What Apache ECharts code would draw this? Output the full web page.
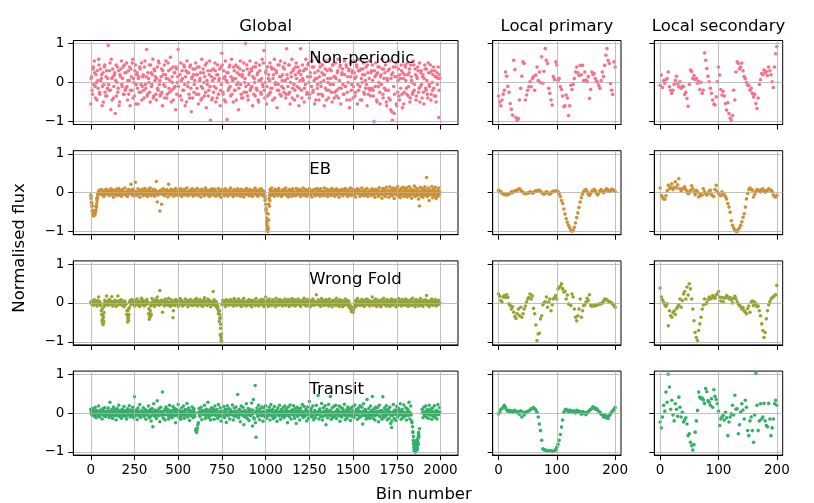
<!DOCTYPE html>
<html><head><meta charset="utf-8">
<script src="https://cdn.jsdelivr.net/npm/echarts@6/dist/echarts.min.js"></script>
<style>html,body{margin:0;padding:0;background:#fff}#c{width:814px;height:503px}</style>
</head><body><div id="c"></div>
<script>
// ---------------- data (flux values in hundredths) ----------------
const classNames = ['Non-periodic', 'EB', 'Wrong Fold', 'Transit'];
const columnTitles = ['Global', 'Local primary', 'Local secondary'];
const globalXTicks = [0, 250, 500, 750, 1000, 1250, 1500, 1750, 2000];
const localXTicks = [0, 100, 200];
const yTicks = [-1, 0, 1];
const globalBinStep = 5;   // one value every 5 bins
const globalMidOffset = 2; // second sample set, 2 bins after the first
const localBinStep = 2;    // one value every 2 bins

const globalNonPeriodic = [
-55,15,-30,40,55,-10,20,-45,5,60,-25,35,10,-60,25,-5,45,-35,30,-15,
95,-20,50,-70,10,35,-40,20,-80,45,0,-25,30,-50,15,55,-10,40,-30,25,
-15,50,-45,30,5,-60,35,-20,60,10,-35,45,-5,25,-55,15,40,-25,50,-10,
20,-40,55,-15,85,-30,10,45,-50,25,-5,60,-35,30,15,-45,40,-20,50,5,
-30,35,-60,20,45,-10,55,-40,10,30,-25,65,-50,15,40,-15,25,-70,35,0,
85,-35,20,50,-45,10,-20,40,-60,30,55,-10,25,-40,45,-75,15,35,-25,5,
50,-30,20,-55,40,10,-45,60,-15,25,-35,45,-65,5,30,-20,55,-97,15,-40,
35,-10,50,-50,20,45,-30,10,-60,40,75,-25,30,-45,55,5,-95,25,-15,45,
-35,60,10,-50,30,-20,45,-5,40,-70,20,55,-30,15,-40,50,0,100,-25,35,
-45,20,55,-15,30,-60,40,10,-35,50,-20,25,-50,45,5,-30,60,-10,82,-40,
25,-55,40,10,-30,50,-15,35,-45,20,60,-5,30,-65,45,-20,15,55,-35,5,
40,-25,50,-40,87,10,-30,45,-55,25,60,-15,35,-45,20,50,-10,40,-60,30,
87,-20,45,5,-50,35,60,-30,15,50,-40,25,-10,55,-25,40,-55,10,65,-15,
30,-45,50,0,-30,45,20,-60,35,55,-20,10,-40,60,-5,30,-50,45,15,-25,
50,-35,25,60,-15,40,-55,20,35,-30,55,-10,45,-45,15,30,-65,50,-20,25,
-40,55,10,-25,45,-55,30,60,-10,35,-45,20,50,-30,5,40,-60,25,-15,55,
-35,30,45,-20,-100,15,50,-45,25,-10,40,-55,20,60,-30,35,-15,45,-50,10,
30,-40,55,-70,20,-97,40,-80,15,50,-60,-25,35,-45,10,45,-30,25,-55,20,
40,-15,50,-35,25,-50,45,5,-30,55,-20,35,-45,15,40,-25,50,-10,30,-40,
20,-55,45,-15,35,-30,50,-5,25,-45,30,-20,40,-35,15,-50,25,10,-90,20
];
const globalNonPeriodicMid = [
10,-20,35,-5,25,-40,0,30,-15,45,-30,5,20,-10,-50,40,-25,15,-35,10,
-5,30,-20,60,-45,15,-10,25,5,-35,40,-15,-60,20,35,-5,10,-30,45,-20,
25,-10,5,-30,40,-20,15,50,-40,0,30,-55,20,-15,10,-25,35,-5,-45,15,
-20,40,-5,15,-35,25,0,-25,45,-10,20,-40,35,5,-30,10,-15,55,-5,-35,
15,-25,30,-5,-40,20,10,-30,50,-15,5,35,-20,0,-45,25,-10,40,-30,15,
-10,20,-35,5,30,-20,45,-5,15,-50,25,0,-30,40,-15,10,-40,20,-5,35,
20,-15,40,-30,5,25,-10,-40,35,0,15,-25,50,-5,-35,20,-10,30,-45,5,
-25,10,30,-15,-40,20,5,35,-20,-5,45,-30,10,15,-50,25,0,-20,40,-10,
15,-30,5,40,-20,10,-45,25,0,-15,35,-5,-40,20,30,-25,10,-10,45,-35,
-5,25,-20,35,-10,15,-30,0,40,-15,20,-45,5,30,-25,10,-5,50,-20,0,
30,-10,-35,20,5,-25,40,-15,10,35,-40,0,25,-20,-5,45,-30,15,-10,20,
-15,35,5,-30,20,-10,45,-25,0,15,-40,30,-5,-20,40,10,-35,25,-15,5,
20,-40,10,30,-15,-5,35,-25,45,0,-30,15,-10,40,-20,5,25,-45,10,-5,
-30,15,40,-10,25,-35,5,20,-15,-45,30,0,-20,35,10,-25,45,-5,-40,15,
10,-20,30,-40,5,45,-15,25,-5,-30,20,-10,40,-25,0,35,-45,15,-5,30,
-10,25,-35,15,40,-5,-20,30,-45,10,0,35,-25,20,-15,-5,45,-30,10,-20,
25,-15,5,-35,30,-10,20,-50,40,0,-25,15,-5,35,-40,10,25,-20,-60,5,
-20,35,-45,10,-75,25,-10,-30,40,-55,15,5,-35,20,-15,30,-65,10,-25,45,
5,-30,20,-10,35,-40,15,0,-25,45,-5,20,-35,10,30,-15,-50,25,-5,15,
-25,10,35,-20,5,-40,25,-10,45,-30,0,20,-15,30,-35,15,-5,40,-20,10
];
const globalEB = [
-5,-25,-45,-55,-58,-50,-35,-15,-5,4,6,-3,8,-6,2,-10,7,-4,9,-2,
5,-8,3,10,-5,7,-12,4,-3,9,-7,2,11,-6,5,-9,8,0,-4,12,
-6,3,-10,8,-2,6,22,-5,9,-8,4,27,-7,2,10,-4,-12,6,-3,9,
-8,5,11,-6,3,-10,8,-2,12,-7,4,-4,9,-9,6,29,-24,-6,3,-47,
7,-30,-4,10,-8,5,-2,8,-11,22,4,-6,9,-3,6,-9,2,11,-5,3,
-7,8,-3,10,-10,5,-4,9,-6,2,12,-8,4,-5,7,-2,10,-9,3,-6,
8,-4,11,-7,2,6,-11,9,-3,5,-8,12,-2,7,-6,3,-10,8,-4,10,
-6,4,9,-9,2,-3,11,-7,5,-12,8,-2,6,-8,10,-4,3,-9,7,-1,
12,-6,4,-10,8,-3,6,-7,10,-2,5,-9,9,-4,2,-11,7,-5,11,-3,
4,-8,9,-6,3,-10,7,-2,12,-5,6,-9,2,8,-4,10,-7,5,-3,-12,
-30,-75,-95,-55,-15,8,-3,12,-6,4,-9,9,-2,6,-8,11,-4,3,-10,7,
-5,9,-2,12,-7,4,-11,8,-3,6,-9,10,-4,2,-8,11,-6,5,-2,9,
-10,6,-4,12,-7,3,8,-9,5,-2,10,-6,4,-11,7,-3,9,-8,2,11,
-5,6,-9,10,-3,4,-8,12,-6,2,9,-10,5,-4,8,-7,11,-2,6,-9,
3,10,-5,7,-12,4,-3,9,-8,6,-2,11,-6,5,-10,8,-4,12,-7,3,
9,-5,6,-11,4,10,-3,7,-9,2,12,-6,5,-8,8,-4,11,-10,3,-2,
7,-7,10,-4,5,-12,9,-3,6,-9,13,-5,4,-14,11,-6,8,-10,14,-3,
6,-12,15,-5,9,-8,12,-15,4,10,-6,16,-9,7,-13,11,-4,14,-10,8,
-7,13,-11,5,15,-8,10,-14,6,-5,17,-10,12,-7,9,-16,-34,14,-9,11,
-12,8,15,-6,39,-10,12,-20,7,-5,16,-13,10,-8,14,-15,6,-9,12,-4
];
const globalEBMid = [
-15,-32,-50,-58,-57,-48,-35,-15,-3,1,-2,3,0,-4,2,-1,4,-3,1,0,
2,-1,4,-3,0,3,-2,1,-5,2,0,-3,3,-1,1,-2,4,0,-3,2,
-1,3,-2,0,4,-3,1,2,-4,0,3,-1,2,-3,0,1,-2,4,-1,0,
3,-2,0,2,-4,1,-1,3,-2,0,2,-3,1,-5,0,3,-2,1,-1,2,
-3,0,2,-1,3,-4,1,0,-2,3,-1,2,-3,0,1,-2,3,-1,0,2,
1,-3,0,2,-1,4,-2,0,3,-4,1,-1,2,0,-3,1,-2,3,0,-1,
2,0,-3,1,3,-2,0,2,-1,-4,1,3,-2,0,2,-3,1,-1,4,0,
-2,3,0,-1,2,-4,1,0,3,-2,0,2,-3,1,-1,4,-2,0,1,-3,
3,-1,0,2,-3,1,-2,4,0,-1,2,-3,0,1,-2,3,-1,0,2,-4,
0,2,-1,3,-2,0,1,-3,2,0,-1,4,-2,1,0,-3,2,-1,1,-20,
-45,-85,-70,-30,-5,2,-1,3,0,-2,1,-3,2,0,-1,3,-2,1,0,-3,
2,-1,0,3,-2,1,-4,0,2,-1,3,0,-2,1,-3,2,0,-1,4,-2,
0,1,-3,2,0,-1,3,-2,1,0,-4,2,-1,3,0,-2,1,-3,2,0,
-1,3,0,-2,1,-3,2,0,4,-1,0,-2,3,1,-3,0,2,-1,1,-2,
3,0,-1,2,-3,1,0,-2,4,-1,2,0,-3,1,-1,3,-2,0,2,-1,
0,-3,2,1,-1,3,-2,0,1,-4,2,0,-1,3,-2,1,0,-3,2,-1,
1,-2,3,0,-4,2,-1,1,3,-3,0,2,-2,4,-1,0,3,-3,1,-2,
4,-3,2,0,-5,3,-1,5,-4,1,0,-2,6,-3,2,-5,4,-1,3,-4,
0,5,-3,2,-6,4,-1,3,-5,6,-2,1,-4,5,-3,2,-6,4,-2,3,
-5,4,-2,6,-3,1,-6,5,-1,3,-4,6,-2,0,-5,4,-3,5,-1,2
];
const globalWrongFold = [
2,-3,5,-6,8,-2,4,-8,6,15,-4,-7,-20,-45,-56,-10,7,-5,18,3,
-6,9,-3,5,16,-8,4,-2,7,-9,3,18,-5,6,-3,8,-7,2,-10,5,
-4,-30,-49,-38,-12,6,-5,9,-2,4,-8,7,-3,10,-6,3,-9,5,12,-4,
6,-8,3,-5,9,-2,-28,-42,-20,-7,11,-4,5,-9,8,-3,15,6,-6,32,
-4,7,-24,3,-8,10,-2,5,-6,12,-3,-9,8,-5,-38,4,-7,9,-2,6,
-9,3,11,-4,6,-8,2,-5,10,-3,7,-10,4,-2,9,-6,5,-7,3,8,
-5,11,-8,4,-3,9,-6,2,-9,7,13,-4,5,-7,10,-2,6,-10,3,-5,
29,8,-6,4,-11,-16,-28,-48,-82,-100,-4,7,-3,5,-9,8,-2,6,-6,3,
9,-4,5,-8,11,-3,6,-7,2,10,-5,4,-9,7,-2,12,-6,3,-8,5,
-3,9,-6,4,-10,7,-2,5,-7,11,-4,3,-8,6,-2,9,-5,8,-9,4,
15,-3,6,-9,10,-4,3,-7,8,-2,5,-10,12,-5,4,-6,9,-3,7,-8,
3,-5,10,-7,6,-2,9,-9,4,-4,11,-6,2,8,-8,5,-3,10,-5,6,
-9,4,7,-3,12,-6,5,-8,9,-2,3,-10,6,-4,10,-7,4,-5,21,-3,
8,-6,4,-9,11,-3,6,-7,2,9,-5,5,-8,10,-4,3,-10,7,-2,6,
-7,12,-4,5,-9,8,-3,6,-10,4,-6,10,-2,7,-8,5,-12,-15,-22,-18,
-24,-14,-10,6,-8,11,-4,5,-7,3,9,-6,4,-9,8,-3,10,-5,6,-8,
4,-2,15,-7,6,-4,10,-9,3,7,-6,5,-10,8,-3,12,-5,4,-8,9,
-4,6,-9,3,10,-6,5,-3,8,-10,4,-7,11,-2,6,-8,9,-5,3,-6,
10,-4,7,-9,5,-2,8,-7,12,-5,4,-10,9,-3,6,-8,3,11,-6,5,
-9,7,-3,8,19,-6,4,-10,6,-4,10,-7,5,-3,9,-8,4,-5,7,-2
];
const globalWrongFoldMid = [
0,2,-1,3,-2,1,-3,2,0,-1,3,-2,-30,-50,-35,-3,1,-2,3,0,
2,-1,3,0,-2,1,-3,2,0,4,-1,1,-2,3,0,-1,2,-3,1,0,
-2,-20,-40,-15,2,0,-1,3,-2,1,0,-3,2,1,-1,0,3,-2,1,0,
1,-2,0,3,-1,2,-15,-35,-8,0,2,-1,3,-2,0,1,-3,2,0,-1,
3,-1,0,2,-3,1,-1,3,0,-2,1,2,-3,0,-20,1,-2,3,0,-1,
0,2,-1,3,-2,0,1,-3,2,0,-1,3,-2,1,0,-4,2,-1,3,0,
-1,3,0,-2,1,-3,2,0,4,-1,2,0,-3,1,-1,3,0,-2,1,-4,
2,0,-3,1,-5,-10,-22,-40,-65,-90,-2,1,3,-1,0,2,-3,1,0,2,
-1,2,0,-3,1,3,-2,0,2,-1,3,-2,0,1,-3,2,0,-1,3,-2,
0,3,-1,2,-2,0,1,-3,2,0,-1,3,-2,1,0,-3,2,-1,0,3,
-2,1,0,3,-1,2,-3,0,1,-2,3,0,-1,2,-3,1,0,-2,3,-1,
1,-2,3,0,-1,2,-3,1,0,-2,4,-1,0,2,-3,1,-1,3,0,-2,
0,2,-1,3,-2,1,0,-3,2,-1,0,3,-2,1,-1,2,0,-3,1,0,
2,-1,0,3,-2,1,-3,0,2,-1,3,0,-2,1,0,-3,2,-1,1,0,
-1,3,0,-2,1,-3,2,0,-1,3,-2,0,1,-3,2,0,-5,-10,-14,-12,
-18,-8,-4,2,0,-2,3,-1,0,2,-3,1,-1,3,0,-2,1,-1,2,0,
3,-1,0,2,-3,1,0,-2,3,-1,2,0,-3,1,-1,3,0,-2,1,-1,
0,2,-3,1,0,-1,3,-2,1,0,-3,2,0,-1,3,-2,1,0,-2,2,
-1,3,0,-2,2,-3,1,0,-1,3,-2,0,2,-1,0,3,-3,1,0,-2,
2,-1,0,3,-2,1,-3,0,2,-1,3,0,-2,1,-1,2,0,-3,1,0
];
const globalTransit = [
10,-5,12,3,-8,15,-12,6,-3,18,-10,8,2,-15,11,-6,14,-9,5,-2,
13,-11,28,-4,9,-14,16,-7,3,-18,12,-3,20,-9,6,-13,10,-5,17,-8,
4,-15,11,-2,19,-10,7,-6,15,-12,42,-4,8,-17,13,-7,22,-11,5,-3,
14,-9,10,-16,6,-4,18,-12,9,-20,12,-35,24,-8,5,-14,32,-6,11,-22,
15,-5,54,-13,8,-18,16,-3,10,-15,20,-9,4,-12,17,-7,12,-25,9,-4,
22,-11,6,-16,14,-3,18,-13,9,-6,25,-10,13,-19,7,-4,16,-12,11,-8,
-45,-50,-38,-25,12,-9,15,-17,6,-3,20,-14,10,-7,28,-12,8,-18,14,-5,
11,-16,18,-6,9,-13,22,-9,14,-20,5,-3,17,-11,10,-24,19,-7,12,-15,
8,-4,21,-18,13,-9,16,-6,48,-12,10,-22,18,-5,15,-30,7,-10,24,-14,
12,-19,9,-6,26,-33,35,-15,71,-62,13,-8,20,-17,11,-4,16,-21,14,-9,
19,-13,7,-7,15,-18,22,-5,10,-14,17,-10,6,-21,13,-3,20,-16,9,-8,
14,-12,18,-6,11,-25,16,-9,21,-15,8,-4,19,-13,12,-27,15,-7,10,-18,
13,-5,22,-11,17,-8,9,-20,16,-14,30,-6,12,-10,18,-17,7,-12,20,-4,
45,-15,11,-9,25,-18,14,-7,19,-30,10,-12,22,-5,43,-16,13,-11,17,-8,
20,-14,9,-6,18,-21,15,-10,12,-4,23,-17,8,-13,16,-7,11,-19,14,-9,
17,-11,21,-5,10,-16,13,-12,19,-8,15,-28,24,-6,9,-15,35,-10,12,-14,
18,-7,43,-13,11,-18,16,-4,14,-22,20,-9,7,-16,42,-11,13,-8,19,-17,
10,-13,15,-27,-37,-6,22,-14,8,-19,17,-10,12,-5,24,-16,9,-12,21,-8,
14,-18,11,-7,28,-15,18,-20,-35,-60,-90,-100,-85,-95,-75,-55,-40,null,null,10,
-12,15,-6,18,-10,9,-14,20,-5,11,-16,13,-8,19,-11,7,-15,22,-4,14
];
const globalTransitMid = [
3,-2,6,0,-4,8,-1,4,-6,2,0,-3,7,-1,5,-7,2,0,-4,6,
-2,5,-8,1,4,-5,0,9,-3,2,-6,7,0,-4,3,-9,5,1,-2,6,
0,-7,4,2,-3,8,-5,1,6,-2,-8,3,0,5,-4,2,-9,6,-1,3,
-5,2,7,-3,0,-6,4,1,-8,5,-2,3,-5,8,0,-3,6,-7,2,1,
4,-6,0,3,-4,9,-2,5,-7,1,-3,6,0,-5,8,-1,3,-6,4,0,
-3,7,-1,-8,4,2,-5,6,0,-2,8,-4,1,5,-7,3,-1,6,-3,0,
-40,-45,-30,2,-5,4,-1,7,-3,0,5,-6,2,8,-4,1,-7,3,0,5,
-2,6,-5,1,8,-3,0,-6,4,2,-8,5,-1,3,-4,9,0,-5,2,-3,
6,-1,3,-7,0,5,-4,2,-2,8,-5,1,4,-3,0,-9,6,-2,3,-5,
1,4,-6,2,-3,8,-12,0,-25,5,-2,6,-5,1,3,-7,0,4,-4,2,
-6,3,0,-4,7,-2,5,-8,1,3,-5,0,6,-3,2,-7,4,-1,8,-4,
2,-5,6,0,-3,4,-7,1,5,-2,0,8,-6,3,-1,4,-8,2,0,-3,
5,-1,-6,3,0,-4,7,-2,4,-5,1,6,-3,0,-7,2,5,-4,1,3,
-2,6,-4,0,3,-8,2,5,-1,-5,4,0,-3,7,-6,1,3,-2,0,-4,
4,-3,1,6,-7,2,0,-4,5,-1,3,-6,0,8,-2,4,-5,1,-3,6,
0,-5,3,-2,7,-4,1,5,-8,2,0,-3,6,-1,4,-7,2,0,-5,3,
-3,7,0,-4,2,-6,5,1,-2,4,-8,3,0,6,-5,1,-2,7,-4,0,
5,-2,3,-6,-20,1,4,-3,0,7,-5,2,-1,6,-4,0,3,-7,2,-1,
-4,3,0,6,-2,1,-5,-25,-48,-75,-95,-98,-90,-92,-80,-60,null,null,null,0,
3,-4,1,5,-2,0,6,-3,2,-5,4,0,-6,3,1,-4,5,-2,0,3
];
// extra finely-sampled points inside the dips: [bin, value]
const ebDipPoints = [[2,-10],[4,-25],[6,-35],[8,-48],[12,-55],[14,-57],[16,-60],[18,-56],[22,-57],[24,-54],[28,-45],[32,-38],[34,-28],[36,-20],[38,-12],[42,-4],
[996,-8],[998,-18],[1002,-40],[1004,-52],[1006,-65],[1008,-80],[1012,-88],[1014,-100],[1016,-92],[1018,-70],[1022,-35],[1024,-20],[1026,-8]];
const wfDipPoints = [[66,-15],[68,-30],[70,-40],[72,-52],[74,-48],[76,-25],[212,-20],[214,-35],[216,-45],[218,-30],[340,-28],[342,-35],[346,-30],
[736,-20],[738,-30],[741,-38],[743,-55],[744,-85],[746,-90],[747,-95],[748,-80],[749,-98]];
const transitDipPoints = [[1842,-50],[1844,-70],[1846,-80],[1848,-88],[1849,-95],[1851,-98],[1852,-85],[1853,-92],[1854,-78],[1856,-95],[1857,-88],[1858,-100],[1859,-80],
[1861,-92],[1862,-75],[1863,-70],[1864,-88],[1866,-82],[1867,-68],[1868,-90],[1869,-72],[1871,-65],[1872,-80],[1873,-60],[1874,-50]];

const npLocalPrimary = [
-35,-50,-60,-45,-30,-20,27,16,-10,-25,
-54,-69,-84,57,33,-90,-98,-93,-45,-15,
16,53,49,-45,-32,-20,-11,2,-11,10,
15,-20,19,40,5,27,0,66,-2,29,
87,57,49,-15,-28,-45,-58,15,8,53,
45,6,10,-11,-18,-35,-62,-60,-32,-40,
-85,-60,-7,-18,-5,10,27,40,25,18,
44,20,44,5,27,6,2,15,-41,-18,
27,20,23,10,3,0,-8,-15,5,27,
15,44,70,87,57,49,-3,-20,-31,53,
40];
const npLocalSecondary = [
-7,19,-13,5,-2,7,10,27,-11,-20,
-28,-20,-5,5,16,-3,-11,2,-15,-10,
-11,-31,-25,-41,-61,-5,32,28,10,18,
8,10,-2,3,-18,0,-28,-20,76,57,
36,16,2,-15,-28,-45,-56,-58,-37,2,
40,19,-18,-32,-23,-35,-54,-71,-52,-80,
-92,-98,-85,-20,-45,27,53,49,35,40,
50,30,15,10,0,-7,-7,-20,-15,-28,
-37,-30,-54,-67,-40,-5,7,23,20,32,
25,28,18,40,30,20,2,-13,40,74,
92];
const ebLocalPrimary = [
6,4,2,-1,-3,-5,-4,-6,-5,-3,
-1,2,0,3,5,4,7,9,10,6,
3,1,-2,-3,-1,-2,0,2,1,-1,
0,3,5,4,6,6,3,1,-2,-4,
-1,2,1,-2,-4,-1,2,4,3,4,
5,3,-3,-10,-20,-28,-42,-55,-67,-76,
-84,-90,-96,-99,-97,-89,-78,-64,-52,-38,
-24,-13,-4,3,6,8,2,-4,-7,-2,
4,6,9,5,-2,-6,-1,5,8,3,
0,4,8,10,6,3,5,9,8,5,
3];
const ebLocalSecondary = [
12,-7,-12,-16,-17,-8,5,19,10,14,
23,8,14,28,12,20,36,10,5,9,
12,15,8,2,-3,0,6,18,10,2,
-5,6,2,-11,-3,-7,-6,10,2,-3,
-6,-2,4,6,-5,-8,-10,8,19,3,
-2,-6,-8,2,-3,-6,-10,-16,-28,-37,
-50,-72,-84,-91,-96,-99,-100,-94,-90,-84,
-75,-63,-54,-37,-16,-2,8,12,9,6,
-11,-4,3,8,5,6,2,8,10,4,
1,5,6,10,8,6,2,-6,-10,-11,
-7];
const wfLocalPrimary = [
23,17,6,2,15,19,14,21,14,-2,
-7,-16,-10,-24,-35,-40,-28,-16,-33,-11,
-37,-28,-16,-8,2,10,14,23,10,18,
-14,-28,-57,-97,-80,-78,-41,-33,-5,0,
3,15,-11,2,10,-20,-5,10,14,19,
10,36,40,42,49,36,28,30,10,20,
-3,-4,-7,23,15,-16,-37,-46,-33,-16,
10,-37,-20,-7,-5,2,12,6,21,-7,
-8,-8,-7,-7,-6,-5,-3,-3,-2,0,
4,10,9,8,5,2,2,-1,-3,-6,
-11];
const wfLocalSecondary = [
38,15,8,2,-5,-9,-2,-59,-20,-33,
-37,-25,-21,-30,-15,-10,-5,10,-11,6,
23,29,10,41,20,49,36,10,-16,-46,
-76,-89,-97,-71,-54,-37,-16,-5,10,-3,
0,8,15,10,12,19,15,12,20,23,
29,15,5,14,3,12,14,19,15,10,
14,8,0,12,17,10,3,-3,-7,-10,
-16,-12,-20,-24,-28,-15,-8,-24,2,5,
-7,2,-2,-10,-8,-20,-33,-54,-71,-89,
-76,-41,-20,-5,3,10,13,16,19,21,
45];
const trLocalPrimary = [
-2,2,9,12,15,20,14,8,5,7,
4,6,3,5,7,3,1,4,-3,6,
-10,2,-5,3,1,4,6,8,11,12,
14,11,8,2,-10,-28,-45,-70,-92,-94,
-95,-96,-97,-96,-98,-97,-99,-98,-97,-94,
-88,-80,-70,-55,-36,-18,2,8,10,6,
3,8,5,2,6,4,0,7,3,5,
2,-3,4,-1,2,-4,1,4,7,9,
12,16,14,10,12,8,4,2,-3,-5,
-10,-4,-12,-8,-14,-6,-2,3,6,10,
14];
const trLocalSecondary = [
-23,-38,-10,20,5,54,28,100,67,10,
33,-5,-20,24,10,-8,41,15,-10,2,
-23,-18,-12,-28,-58,-53,-75,-84,-95,-81,
-49,-20,7,54,41,37,39,34,25,63,
55,32,28,20,37,15,60,43,35,24,
5,-32,-15,-10,-6,-18,2,-12,-58,-23,
-10,-2,20,-5,46,10,11,-53,-30,3,
24,8,-15,33,15,-45,-58,-20,-10,-45,
-75,-5,102,20,-45,-20,24,-15,-10,25,
-20,-32,-35,25,-15,-58,-38,-15,24,33,
20];

// ---------------- chart ----------------
const FONT = 'DejaVu Sans';
const colors = ['#f77189', '#ce9032', '#97a431', '#32b166'];
const rowTops = [40.5, 150.7, 260.9, 371.1];
const rowH = 84;
const colLefts = [73.3, 492.7, 654.3];
const colW = [384.7, 128.3, 128.4];
const globalSets = [globalNonPeriodic, globalEB, globalWrongFold, globalTransit];
const globalMidSets = [globalNonPeriodicMid, globalEBMid, globalWrongFoldMid, globalTransitMid];
const globalExtra = [[], ebDipPoints, wfDipPoints, transitDipPoints];
const localPrimarySets = [npLocalPrimary, ebLocalPrimary, wfLocalPrimary, trLocalPrimary];
const localSecondarySets = [npLocalSecondary, ebLocalSecondary, wfLocalSecondary, trLocalSecondary];
const labelAnchor = [1250, 0.6];

const fmtY = v => v < 0 ? '\u2212' + Math.abs(v) : String(v);
const fmtX = v => String(v);
const grids = [], xAxes = [], yAxes = [], series = [];
const axisLine = {show: true, onZero: false, lineStyle: {color: '#000', width: 1}};
const splitLine = {show: true, lineStyle: {color: '#b0b0b0', width: 0.8}};

for (let r = 0; r < 4; r++) {
  for (let c = 0; c < 3; c++) {
    const idx = r * 3 + c;
    const isGlobal = c === 0;
    const ticks = isGlobal ? globalXTicks : localXTicks;
    grids.push({left: colLefts[c], top: rowTops[r], width: colW[c], height: rowH,
      show: true, borderColor: '#000', borderWidth: 1, backgroundColor: 'rgba(0,0,0,0)'});
    xAxes.push({gridIndex: idx, type: 'value', min: isGlobal ? -100 : -10, max: isGlobal ? 2100 : 210, z: 5,
      axisLine: axisLine,
      axisTick: {show: true, length: 5, customValues: ticks, lineStyle: {color: '#000', width: 1}},
      axisLabel: {show: r === 3, customValues: ticks, formatter: fmtX, margin: 8, fontFamily: FONT, fontSize: 13.5, color: '#000'},
      splitLine: splitLine});
    yAxes.push({gridIndex: idx, type: 'value', min: -1.08, max: 1.08, splitNumber: 2, z: 5,
      axisLine: axisLine,
      axisTick: {show: true, length: 5, customValues: yTicks, lineStyle: {color: '#000', width: 1}},
      axisLabel: {show: c === 0, customValues: yTicks, margin: 9, formatter: fmtY, fontFamily: FONT, fontSize: 13.5, color: '#000'},
      splitLine: splitLine});
    let data;
    if (isGlobal) {
      data = [];
      globalSets[r].forEach((v, i) => { if (v !== null) data.push([i * globalBinStep, v / 100]); });
      globalMidSets[r].forEach((v, i) => { if (v !== null) data.push([i * globalBinStep + globalMidOffset, v / 100]); });
      globalExtra[r].forEach(p => data.push([p[0], p[1] / 100]));
    } else {
      const arr = c === 1 ? localPrimarySets[r] : localSecondarySets[r];
      data = arr.map((v, i) => [i * localBinStep, v / 100]);
    }
    series.push({type: 'scatter', xAxisIndex: idx, yAxisIndex: idx, data: data, symbol: 'circle',
      symbolSize: isGlobal ? 3.5 : 3.6,
      itemStyle: {color: colors[r], opacity: 1}, z: 1, silent: true, emphasis: {disabled: true}});
  }
}

const textStyle = t => ({text: t, font: '16.5px "DejaVu Sans"', fill: '#000', align: 'center', verticalAlign: 'middle', textAlign: 'center', textVerticalAlign: 'middle'});
const graphics = columnTitles.map((t, c) => ({type: 'text', x: colLefts[c] + colW[c] / 2, y: 26.5, style: textStyle(t)}));
graphics.push({type: 'text', x: 423.8, y: 495, style: textStyle('Bin number')});
graphics.push({type: 'text', x: 20, y: 248, rotation: Math.PI / 2, style: textStyle('Normalised flux')});

const chart = echarts.init(document.getElementById('c'), null, {renderer: 'canvas'});
chart.setOption({animation: false, backgroundColor: '#fff', grid: grids, xAxis: xAxes, yAxis: yAxes, series: series, graphic: graphics});

// class names placed at a data anchor inside each global panel
classNames.forEach((name, r) => {
  const p = chart.convertToPixel({xAxisIndex: r * 3, yAxisIndex: r * 3}, labelAnchor);
  graphics.push({type: 'text', x: p[0], y: p[1], z: 10,
    style: {text: name, font: '16.5px "DejaVu Sans"', fill: '#000', align: 'left', verticalAlign: 'middle', textAlign: 'left', textVerticalAlign: 'middle'}});
});
chart.setOption({graphic: graphics});
</script></body></html>
